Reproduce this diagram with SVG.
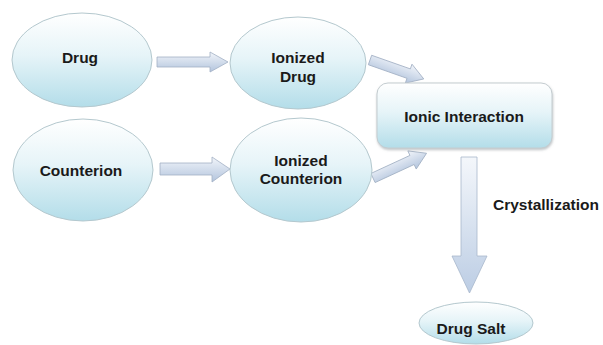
<svg xmlns="http://www.w3.org/2000/svg" width="603" height="345" viewBox="0 0 603 345">
<defs>
<linearGradient id="gEll" x1="0" y1="0" x2="0" y2="1">
<stop offset="0" stop-color="#ffffff"/>
<stop offset="0.45" stop-color="#e6f4f8"/>
<stop offset="1" stop-color="#b3dde9"/>
</linearGradient>
<linearGradient id="gArr" x1="0" y1="0" x2="0" y2="1">
<stop offset="0" stop-color="#f2f5fa"/>
<stop offset="1" stop-color="#b2c4dd"/>
</linearGradient>
<linearGradient id="gDown" x1="0" y1="0" x2="0" y2="1">
<stop offset="0" stop-color="#f4f7fb"/>
<stop offset="1" stop-color="#bccde4"/>
</linearGradient>
<filter id="sh" x="-10%" y="-10%" width="120%" height="130%">
<feDropShadow dx="0.5" dy="1.5" stdDeviation="1.2" flood-color="#8a9296" flood-opacity="0.55"/>
</filter>
</defs>
<style>
.node{fill:url(#gEll);stroke:#b4c8ce;stroke-width:1}
.arr{fill:url(#gArr);stroke:#a2b0c4;stroke-width:0.8}
.t{font-family:"Liberation Sans",Arial,sans-serif;font-weight:bold;font-size:15.5px;fill:#1a1a1a;text-anchor:middle}
</style>
<rect width="603" height="345" fill="#ffffff"/>
<g id="connectors">
<path class="arr" d="M157,57 L210,57 L210,52 L228,62 L210,72 L210,67 L157,67 Z"/>
<path class="arr" d="M160,163 L212,163 L212,157 L230,169 L212,182 L212,175 L160,175 Z"/>
<path class="arr" transform="translate(370,60) rotate(19.4)" d="M0,-5 L41,-5 L41,-10 L57,0 L41,10 L41,5 L0,5 Z"/>
<path class="arr" transform="translate(373,178) rotate(-24.8)" d="M0,-5 L43,-5 L43,-10 L59,0 L43,10 L43,5 L0,5 Z"/>
<path fill="url(#gDown)" stroke="#a8b8cc" stroke-width="0.8" d="M461,157 L477,157 L477,256 L487,256 L469.5,293 L452,256 L461,256 Z"/>
<text class="t" x="493" y="210" text-anchor="start" style="text-anchor:start" font-size="15">Crystallization</text>
</g>
<g id="drug">
<ellipse class="node" cx="82" cy="60" rx="70" ry="47"/>
<text class="t" x="80" y="63">Drug</text>
</g>
<g id="counterion">
<ellipse class="node" cx="83" cy="170" rx="70" ry="51"/>
<text class="t" x="81" y="176">Counterion</text>
</g>
<g id="ionized-drug">
<ellipse class="node" cx="298" cy="63" rx="68" ry="46"/>
<text class="t" x="298" y="63">Ionized</text>
<text class="t" x="298" y="82">Drug</text>
</g>
<g id="ionized-counterion">
<ellipse class="node" cx="301" cy="170" rx="71" ry="52"/>
<text class="t" x="301" y="166">Ionized</text>
<text class="t" x="301" y="184">Counterion</text>
</g>
<g id="ionic-interaction">
<rect x="377" y="83" width="175" height="65" rx="11" fill="url(#gEll)" stroke="#c4ccd0" stroke-width="1" filter="url(#sh)"/>
<text class="t" x="464" y="122">Ionic Interaction</text>
</g>
<g id="drug-salt">
<ellipse class="node" cx="476" cy="323" rx="57" ry="21"/>
<text class="t" x="471" y="334">Drug Salt</text>
</g>
</svg>
